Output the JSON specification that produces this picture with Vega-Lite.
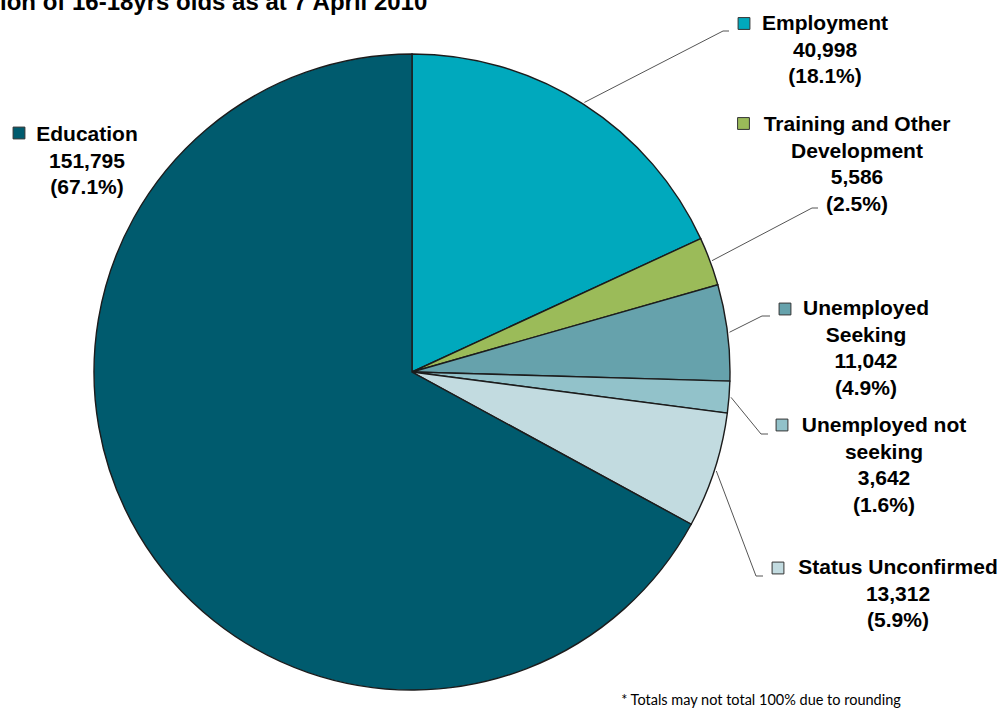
{
  "$schema": "https://vega.github.io/schema/vega-lite/v6.json",
  "width": 824,
  "height": 678,
  "autosize": {"type": "none"},
  "padding": {"left": 0, "top": 33, "right": 180, "bottom": 0},
  "background": "white",
  "config": {"view": {"stroke": null}},
  "data": {
    "values": [
      {"idx": 0, "name": "Employment", "label": "Employment", "value": 40998},
      {"idx": 1, "name": "Training and Other Development", "label": "Training and Other\nDevelopment", "value": 5586},
      {"idx": 2, "name": "Unemployed Seeking", "label": "Unemployed\nSeeking", "value": 11042},
      {"idx": 3, "name": "Unemployed not seeking", "label": "Unemployed not\nseeking", "value": 3642},
      {"idx": 4, "name": "Status Unconfirmed", "label": "Status Unconfirmed", "value": 13312},
      {"idx": 5, "name": "Education", "label": "Education", "value": 151795}
    ]
  },
  "layer": [
    {
      "transform": [
        {"joinaggregate": [{"op": "sum", "field": "value", "as": "total"}]},
        {"window": [{"op": "sum", "field": "value", "as": "cum"}], "sort": [{"field": "idx", "order": "ascending"}], "frame": [null, 0]},
        {"calculate": "(datum.cum - datum.value / 2) / datum.total * 2 * PI", "as": "mid"},
        {"calculate": "320 * sin(datum.mid)", "as": "sx"},
        {"calculate": "320 * cos(datum.mid)", "as": "sy"},
        {"calculate": "[311, 400, 350, 349, 344, 0][datum.idx]", "as": "ex"},
        {"calculate": "[341, 164, 56, -62, -204, 0][datum.idx]", "as": "ey"},
        {"calculate": "[317, 406, 358, 356, 351, 0][datum.idx]", "as": "fx"},
        {"calculate": "[413, 445, 454, 472, 486, -325][datum.idx]", "as": "lx"},
        {"calculate": "[342, 241, 57, -60, -202, 231][datum.idx]", "as": "ly"},
        {"calculate": "[332, 331.5, 373, 370, 366, -393][datum.idx]", "as": "qx"},
        {"calculate": "[348.5, 248.5, 63, -53, -196, 239][datum.idx]", "as": "qy"},
        {"calculate": "datum.label + '\\n' + format(datum.value, ',') + '\\n(' + format(datum.value / datum.total, '.1%') + ')'", "as": "txt"}
      ],
      "layer": [
        {
          "mark": {"type": "arc", "outerRadius": 318, "stroke": "#1c1c1c", "strokeWidth": 1.4},
          "encoding": {
            "theta": {"field": "value", "type": "quantitative", "stack": true},
            "order": {"field": "idx", "type": "quantitative"},
            "color": {
              "field": "name",
              "type": "nominal",
              "scale": {
                "domain": ["Employment", "Training and Other Development", "Unemployed Seeking", "Unemployed not seeking", "Status Unconfirmed", "Education"],
                "range": ["#00A9BD", "#9BBB59", "#66A2AC", "#92C2CA", "#C2DBE0", "#005B6E"]
              },
              "legend": null
            }
          }
        },
        {
          "transform": [{"filter": "datum.idx < 5"}],
          "mark": {"type": "rule", "color": "#555555", "strokeWidth": 1},
          "encoding": {
            "x": {"field": "sx", "type": "quantitative", "scale": {"domain": [-412, 412], "nice": false, "zero": false}, "axis": null},
            "y": {"field": "sy", "type": "quantitative", "scale": {"domain": [-339, 339], "nice": false, "zero": false}, "axis": null},
            "x2": {"field": "ex"},
            "y2": {"field": "ey"}
          }
        },
        {
          "transform": [{"filter": "datum.idx < 5"}],
          "mark": {"type": "rule", "color": "#555555", "strokeWidth": 1},
          "encoding": {
            "x": {"field": "ex", "type": "quantitative"},
            "y": {"field": "ey", "type": "quantitative"},
            "x2": {"field": "fx"}
          }
        },
        {
          "mark": {"type": "point", "shape": "square", "size": 140, "filled": true, "stroke": "#333333", "strokeWidth": 1, "opacity": 1},
          "encoding": {
            "x": {"field": "qx", "type": "quantitative"},
            "y": {"field": "qy", "type": "quantitative"},
            "color": {"field": "name", "type": "nominal", "legend": null}
          }
        },
        {
          "mark": {"type": "text", "font": "Arial, Liberation Sans, sans-serif", "fontSize": 21, "fontWeight": "bold", "color": "#000000", "align": "center", "baseline": "alphabetic", "lineBreak": "\n", "lineHeight": 26.5},
          "encoding": {
            "x": {"field": "lx", "type": "quantitative"},
            "y": {"field": "ly", "type": "quantitative"},
            "text": {"field": "txt", "type": "nominal"}
          }
        }
      ]
    },
    {
      "data": {"values": [{"note": "ion of 16-18yrs olds as at 7 April 2010"}]},
      "mark": {"type": "text", "font": "Arial, Liberation Sans, sans-serif", "fontSize": 24, "fontWeight": "bold", "color": "#000000", "align": "left", "baseline": "alphabetic"},
      "encoding": {
        "x": {"datum": -412, "type": "quantitative"},
        "y": {"datum": 362, "type": "quantitative"},
        "text": {"field": "note", "type": "nominal"}
      }
    },
    {
      "data": {"values": [{"note": "* Totals may not total 100% due to rounding"}]},
      "mark": {"type": "text", "font": "Lato", "fontSize": 14.5, "fontWeight": "normal", "color": "#000000", "align": "center", "baseline": "alphabetic"},
      "encoding": {
        "x": {"datum": 349, "type": "quantitative"},
        "y": {"datum": -333, "type": "quantitative"},
        "text": {"field": "note", "type": "nominal"}
      }
    }
  ]
}
